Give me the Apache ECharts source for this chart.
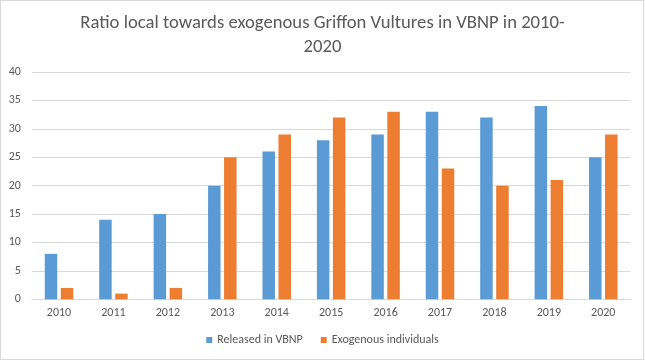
<!DOCTYPE html>
<html><head><meta charset="utf-8">
<script src="https://cdn.jsdelivr.net/npm/echarts@6/dist/echarts.min.js"></script>
<style>html,body{margin:0;padding:0;background:#fff}
#c{position:absolute;left:0;top:0;width:645px;height:361px}
#b{position:absolute;left:0;top:0;width:642px;height:358px;border:1px solid #d9d9d9;pointer-events:none}</style></head>
<body><div id="c"></div><div id="b"></div>
<script>
const categories = ['2010','2011','2012','2013','2014','2015','2016','2017','2018','2019','2020'];
const released = [8,14,15,20,26,28,29,33,32,34,25];
const exogenous = [2,1,2,25,29,32,33,23,20,21,29];
const yTicks = {min:0, max:40, interval:5};
const titleText = 'Ratio local towards exogenous Griffon Vultures in VBNP in 2010-\n2020';
const chart = echarts.init(document.getElementById('c'));
const FONT = "Carlito, 'Open Sans', sans-serif";
chart.setOption({
  animation:false,
  textStyle:{fontFamily:FONT},
  title:{text:titleText,left:'center',top:11,padding:0,
    textStyle:{color:'#595959',fontSize:18.67,fontWeight:'normal',fontFamily:FONT,lineHeight:24}},
  legend:{top:334,left:'center',itemWidth:6,itemHeight:6,itemGap:18,icon:'rect',padding:0,
    textStyle:{color:'#595959',fontSize:12,fontFamily:FONT},data:['Released in VBNP','Exogenous individuals']},
  grid:{left:31.8,right:14.5,top:72,bottom:61.7,containLabel:false},
  xAxis:{type:'category',data:categories,axisTick:{show:false},
    axisLine:{lineStyle:{color:'#d9d9d9'}},axisLabel:{color:'#595959',fontSize:12,margin:8}},
  yAxis:{type:'value',min:yTicks.min,max:yTicks.max,interval:yTicks.interval,
    axisLabel:{color:'#595959',fontSize:12,margin:11},
    splitLine:{lineStyle:{color:'#d9d9d9'}}},
  series:[
    {name:'Released in VBNP',type:'bar',data:released,barWidth:12.5,barGap:'28%',itemStyle:{color:'#5B9BD5'}},
    {name:'Exogenous individuals',type:'bar',data:exogenous,barWidth:12.5,itemStyle:{color:'#ED7D31'}}
  ]
});
</script></body></html>
